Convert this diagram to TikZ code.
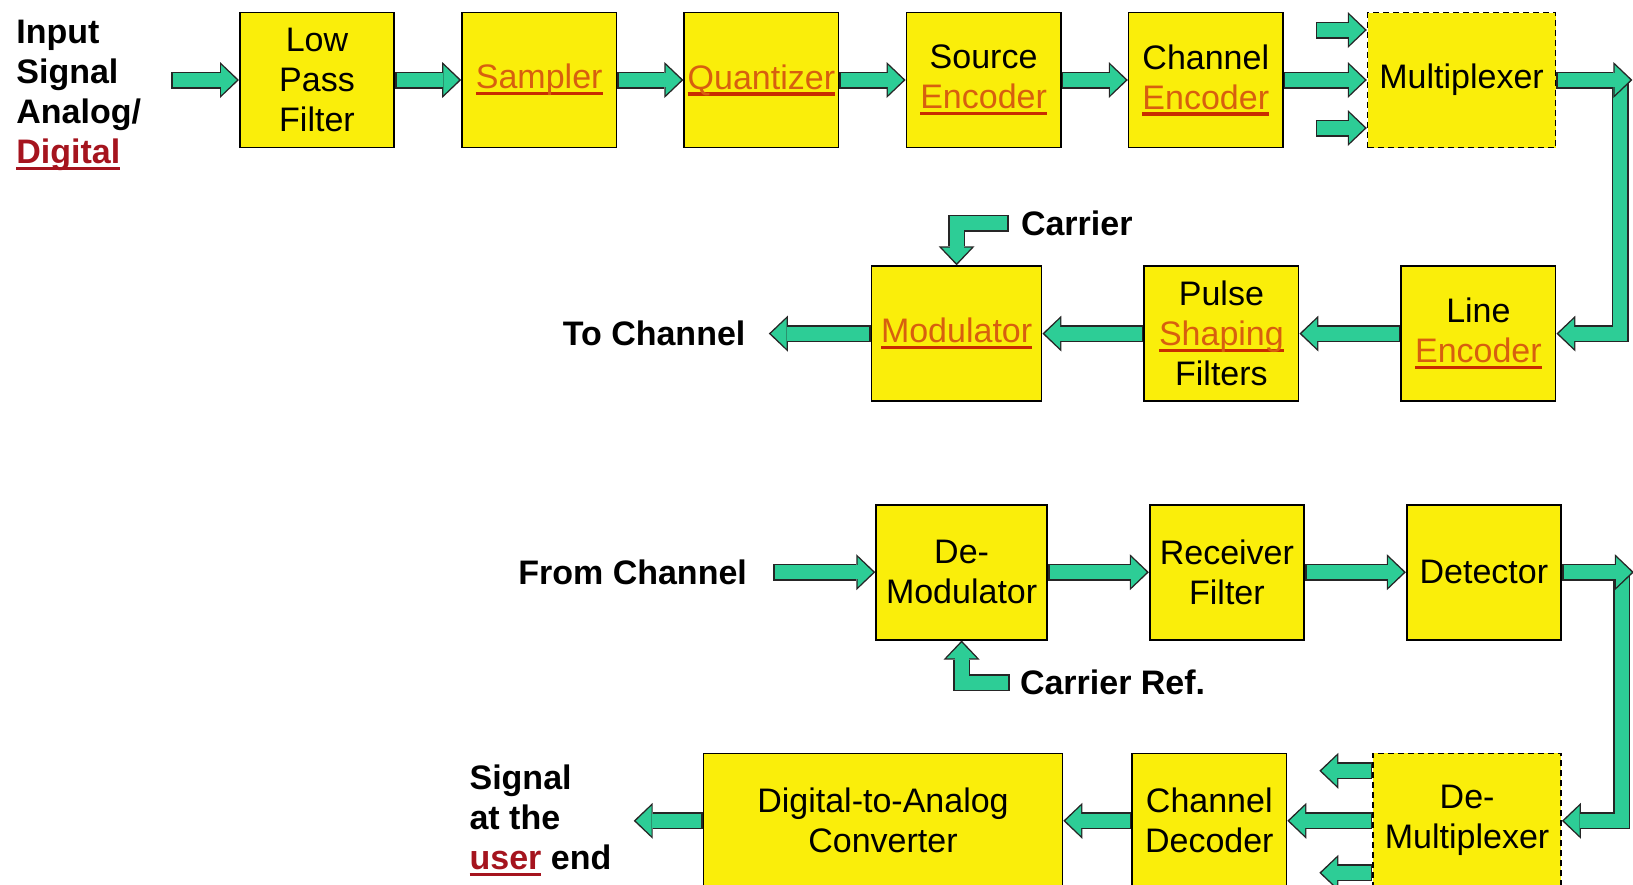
\documentclass[tikz,border=0pt]{standalone}
\usepackage{fontspec}
\setmainfont{Liberation Sans}
\usepackage{xcolor}
\usepackage{tikz}
\usetikzlibrary{arrows.meta,positioning}

\definecolor{boxyellow}{RGB}{250,238,10}
\definecolor{flowgreen}{RGB}{45,205,150}
\definecolor{linkorange}{RGB}{215,95,15}
\definecolor{linkred}{RGB}{200,45,0}
\definecolor{darklink}{RGB}{165,20,30}

% underlined link-style words
\newcommand{\hlink}[1]{\sbox0{\color{linkorange}#1}%
  \rlap{\color{linkred}\rule[-3.2pt]{\wd0}{1.6pt}}\usebox0\relax}
\newcommand{\ulink}[1]{\sbox0{\color{darklink}#1}%
  \rlap{\color{darklink}\rule[-3.2pt]{\wd0}{1.6pt}}\usebox0\relax}

\begin{document}
\begin{tikzpicture}[
  font=\fontsize{17}{20}\selectfont,
  block/.style={draw=black, line width=0.8pt, fill=boxyellow, minimum width=77.2pt,
                minimum height=67.5pt, align=center, inner sep=1pt},
  mbox/.style={block, dash pattern=on 3pt off 2pt, minimum width=94pt},
  lbl/.style={font=\fontsize{17}{20}\selectfont\bfseries, inner sep=0pt, align=left},
  flow/.style={draw=flowgreen, line width=7pt, line join=miter,
               shorten <=0.8pt, shorten >=1.1pt,
               -{Triangle[length=7.8pt, width=15pt, line width=0pt]},
               preaction={draw=black!85, line width=8.5pt, shorten <=0pt, shorten >=0pt,
                          -{Triangle[length=9.5pt, width=18pt, line width=0pt]}}}
]
\useasboundingbox (0,0) rectangle (816.5pt,-442pt);
% --- transmitter chain ---
\node[block] (lpf) at (158.5pt,-40pt) {Low\\Pass\\Filter};
\node[block, right=33.1pt of lpf] (smp) {\hlink{Sampler}};
\node[block, right=33.1pt of smp] (qnt) {\hlink{Quantizer}};
\node[block, right=33.1pt of qnt] (senc) {Source\\\hlink{Encoder}};
\node[block, right=33.1pt of senc] (cenc) {Channel\\\hlink{Encoder}};
\node[mbox, right=41.5pt of cenc] (mux) {Multiplexer};
\node[block, below=58.5pt of mux.south east, anchor=north east] (lenc) {Line\\\hlink{Encoder}};
\node[block, left=50.5pt of lenc] (pulse) {Pulse\\\hlink{Shaping}\\Filters};
\node[block, left=50.5pt of pulse, minimum width=85pt] (mod) {\hlink{Modulator}};
% --- receiver chain ---
\node[block, below=51pt of mod, xshift=2.5pt, minimum width=85.5pt] (dem) {De-\\Modulator};
\node[block, right=50.5pt of dem] (rcv) {Receiver\\Filter};
\node[block, right=50.5pt of rcv] (det) {Detector};
\node[mbox, below=56pt of det.south east, anchor=north east] (demux) {De-\\Multiplexer};
\node[block, left=42.5pt of demux] (cdec) {Channel\\Decoder};
\node[block, left=34pt of cdec, minimum width=179.5pt] (dac) {Digital-to-Analog\\Converter};
% --- free ends ---
\coordinate[left=34pt of lpf.west] (inp);
\coordinate[above left=25pt and 25.5pt of mux.west] (mxa);
\coordinate[below left=24pt and 25.5pt of mux.west] (mxb);
\coordinate[right=32pt of mux.east] (mxc);
\coordinate[right=38pt of mux.east] (mxo);
\coordinate[left=51pt of mod.west] (toch);
\coordinate[above right=21pt and 26pt of mod.north] (car);
\coordinate[left=51pt of dem.west] (frch);
\coordinate[below right=21pt and 24pt of dem.south] (cref);
\coordinate[right=30pt of det.east] (dtc);
\coordinate[right=36pt of det.east] (dto);
\coordinate[above left=25pt and 26.5pt of demux.west] (dxa);
\coordinate[below left=26pt and 26.5pt of demux.west] (dxb);
\coordinate[left=34.5pt of dac.west] (usr);
% --- labels ---
\node[lbl, anchor=north west] (insig) at (8pt,-10pt) {Input\\Signal\\Analog/\\\ulink{Digital}};
\node[lbl, left=11.5pt of toch] (tochl) {To Channel};
\node[lbl, right=6pt of car] (carl) {Carrier};
\node[lbl, left=13pt of frch] (frchl) {From Channel};
\node[lbl, right=5pt of cref] (crefl) {Carrier Ref.};
\node[lbl, left=11pt of usr] (usrl) {Signal\\at the\\\ulink{user} end};
% --- arrows ---
\draw[flow] (inp) -- (lpf);
\draw[flow] (lpf) -- (smp);
\draw[flow] (smp) -- (qnt);
\draw[flow] (qnt) -- (senc);
\draw[flow] (senc) -- (cenc);
\draw[flow] (cenc) -- (mux);
\draw[flow] (mxa) -- (mxa -| mux.west);
\draw[flow] (mxb) -- (mxb -| mux.west);
\draw[flow] (mxc) |- (lenc);
\draw[flow] (mux) -- (mxo);
\draw[flow] (lenc) -- (pulse);
\draw[flow] (pulse) -- (mod);
\draw[flow] (mod) -- (toch);
\draw[flow] (car) -| (mod);
\draw[flow] (frch) -- (dem);
\draw[flow] (dem) -- (rcv);
\draw[flow] (rcv) -- (det);
\draw[flow] (cref) -| (dem);
\draw[flow] (dtc) |- (demux);
\draw[flow] (det) -- (dto);
\draw[flow] (demux) -- (cdec);
\draw[flow] (dxa -| demux.west) -- (dxa);
\draw[flow] (dxb -| demux.west) -- (dxb);
\draw[flow] (cdec) -- (dac);
\draw[flow] (dac) -- (usr);
\end{tikzpicture}
\end{document}
